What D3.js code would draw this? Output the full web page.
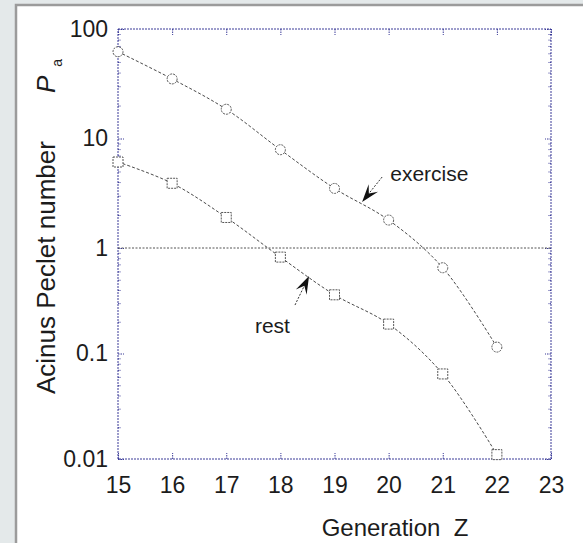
<!DOCTYPE html>
<html>
<head>
<meta charset="utf-8">
<script src="https://cdn.jsdelivr.net/npm/d3@7"></script>
<style>
  html, body { margin: 0; padding: 0; background: #e4e9ea; overflow: hidden; }
  svg { display: block; }
  text { font-family: "Liberation Sans", Arial, sans-serif; fill: #1c1c1c; }
</style>
</head>
<body>
<svg id="chart" width="583" height="543"></svg>
<script>
const generations = [15, 16, 17, 18, 19, 20, 21, 22];
const exercisePe = [62, 35, 18.5, 7.9, 3.5, 1.8, 0.65, 0.115];
const restPe = [6.1, 3.9, 1.9, 0.82, 0.36, 0.19, 0.064, 0.011];

const xTicks = [15, 16, 17, 18, 19, 20, 21, 22, 23];
const yTicks = [100, 10, 1, 0.1, 0.01];
const yTickLabels = ["100", "10", "1", "0.1", "0.01"];

// arrows + labels, in data units
const notes = [
  { text: "exercise", tx: 20.03, ty: 4.1, tail: [19.88, 4.45], tip: [19.51, 2.63] },
  { text: "rest", tx: 17.53, ty: 0.156, tail: [18.27, 0.288], tip: [18.53, 0.543] },
];

const width = 583, height = 543;
const plotLeft = 118, plotRight = 551, plotTop = 29, plotBottom = 459;
const frameColor = "#3b3b98";
const lineColor = "#4a4a4a";

const svg = d3.select("#chart");

// white panel with grey border
svg.append("rect")
  .attr("x", 16).attr("y", 5)
  .attr("width", width).attr("height", height)
  .attr("fill", "#fff")
  .attr("stroke", "#9b9b9b")
  .attr("stroke-width", 2.5);

const x = d3.scaleLinear().domain([15, 23]).range([plotLeft, plotRight]);
// the scan is slightly stretched above 1, so split the log scale there
const y = d3.scaleLog().domain([100, 1, 0.01]).range([plotTop, 248, plotBottom]);

const minorTicks = [];
[0.01, 0.1, 1, 10].forEach((dec) => {
  for (let k = 2; k <= 9; k++) minorTicks.push(dec * k);
});

const styleAxis = (g) => {
  g.select(".domain").remove();
  g.selectAll(".tick line").attr("stroke", frameColor).attr("stroke-dasharray", "1.5,1");
  g.selectAll(".tick text").attr("fill", "#2a2a2a").style("font-size", "23px")
    .attr("font-family", "Liberation Sans, Arial, sans-serif");
};

// left
svg.append("g").attr("transform", `translate(${plotLeft},0)`)
  .call(d3.axisLeft(y).tickValues(yTicks).tickSize(-6).tickPadding(10)
    .tickFormat((d, i) => yTickLabels[i]))
  .call(styleAxis);
svg.append("g").attr("transform", `translate(${plotLeft},0)`)
  .call(d3.axisLeft(y).tickValues(minorTicks).tickSize(-3).tickFormat(""))
  .call(styleAxis);
// right
svg.append("g").attr("transform", `translate(${plotRight},0)`)
  .call(d3.axisRight(y).tickValues(yTicks).tickSize(-6).tickFormat(""))
  .call(styleAxis);
svg.append("g").attr("transform", `translate(${plotRight},0)`)
  .call(d3.axisRight(y).tickValues(minorTicks).tickSize(-3).tickFormat(""))
  .call(styleAxis);
// bottom
svg.append("g").attr("transform", `translate(0,${plotBottom})`)
  .call(d3.axisBottom(x).tickValues(xTicks).tickSize(-6).tickPadding(18))
  .call(styleAxis);
// top
svg.append("g").attr("transform", `translate(0,${plotTop})`)
  .call(d3.axisTop(x).tickValues(xTicks).tickSize(-6).tickFormat(""))
  .call(styleAxis);

// frame
svg.append("rect")
  .attr("x", plotLeft).attr("y", plotTop)
  .attr("width", plotRight - plotLeft).attr("height", plotBottom - plotTop)
  .attr("fill", "none")
  .attr("stroke", frameColor)
  .attr("stroke-width", 1)
  .attr("stroke-dasharray", "2,1");

// Pe = 1 reference line
svg.append("line")
  .attr("x1", plotLeft).attr("x2", plotRight)
  .attr("y1", y(1)).attr("y2", y(1))
  .attr("stroke", "#555")
  .attr("stroke-width", 1)
  .attr("stroke-dasharray", "2,1.5");

const curve = d3.line()
  .x((d, i) => x(generations[i]))
  .y((d) => y(d))
  .curve(d3.curveCatmullRom.alpha(0.5));

[exercisePe, restPe].forEach((vals) => {
  svg.append("path")
    .attr("d", curve(vals))
    .attr("fill", "none")
    .attr("stroke", lineColor)
    .attr("stroke-width", 1)
    .attr("stroke-dasharray", "3,2");
});

svg.selectAll(".circ")
  .data(exercisePe)
  .enter()
  .append("circle")
  .attr("class", "circ")
  .attr("cx", (d, i) => x(generations[i]))
  .attr("cy", (d) => y(d))
  .attr("r", 5)
  .attr("fill", "#fff")
  .attr("stroke", "#555")
  .attr("stroke-dasharray", "2,1");

svg.selectAll(".sq")
  .data(restPe)
  .enter()
  .append("rect")
  .attr("class", "sq")
  .attr("x", (d, i) => x(generations[i]) - 5)
  .attr("y", (d) => y(d) - 5)
  .attr("width", 10).attr("height", 10)
  .attr("fill", "#fff")
  .attr("stroke", "#555")
  .attr("stroke-dasharray", "2,1");

// annotations
notes.forEach((n) => {
  const t = [x(n.tip[0]), y(n.tip[1])];
  const s = [x(n.tail[0]), y(n.tail[1])];
  const len = Math.hypot(t[0] - s[0], t[1] - s[1]);
  const u = [(t[0] - s[0]) / len, (t[1] - s[1]) / len];
  const nrm = [-u[1], u[0]];
  const L = 18, w = 6;
  const back = [t[0] - L * u[0], t[1] - L * u[1]];
  const notch = [t[0] - 0.6 * L * u[0], t[1] - 0.6 * L * u[1]];

  svg.append("line")
    .attr("x1", s[0]).attr("y1", s[1])
    .attr("x2", notch[0]).attr("y2", notch[1])
    .attr("stroke", "#333")
    .attr("stroke-width", 1)
    .attr("stroke-dasharray", "2,1.5");

  svg.append("path")
    .attr("d", `M${t[0]},${t[1]}L${back[0] + w * nrm[0]},${back[1] + w * nrm[1]}` +
      `L${notch[0]},${notch[1]}L${back[0] - w * nrm[0]},${back[1] - w * nrm[1]}Z`)
    .attr("fill", "#111");

  svg.append("text")
    .attr("x", x(n.tx)).attr("y", y(n.ty))
    .style("font-size", "21px")
    .text(n.text);
});

// axis titles
svg.append("text")
  .attr("x", 395).attr("y", 536)
  .attr("text-anchor", "middle")
  .style("font-size", "24px")
  .style("white-space", "pre")
  .text("Generation  Z");

const yTitle = svg.append("text")
  .attr("transform", "translate(55,394) rotate(-90)")
  .style("font-size", "26px");
yTitle.append("tspan").text("Acinus Peclet number");
yTitle.append("tspan").attr("dx", 48).style("font-style", "italic").text("P");
yTitle.append("tspan").attr("dy", 7).attr("dx", 9).style("font-size", "14px").text("a");
</script>
</body>
</html>
